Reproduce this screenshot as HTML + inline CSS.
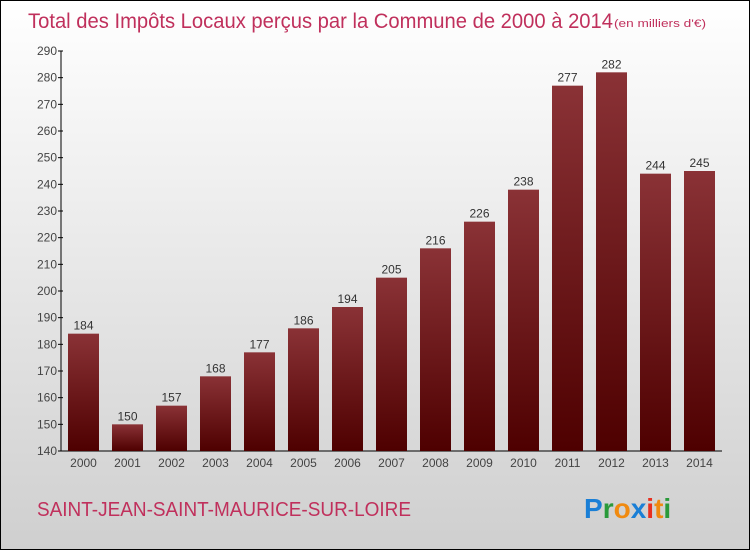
<!DOCTYPE html>
<html><head><meta charset="utf-8"><style>
body{margin:0}
#c{position:relative;width:750px;height:550px;box-sizing:border-box;border:1px solid #000;background:linear-gradient(#ffffff,#cfcfcf);font-family:"Liberation Sans",sans-serif;overflow:hidden}
</style></head><body>
<div id="c">
<svg id="s" width="750" height="550" style="position:absolute;left:0;top:0">
<defs><linearGradient id="g" x1="0" y1="0" x2="0" y2="1"><stop offset="0" stop-color="#8a3236"/><stop offset="1" stop-color="#4e0000"/></linearGradient></defs>
<text x="27" y="27" font-size="21" fill="#c0305c" textLength="585" lengthAdjust="spacingAndGlyphs">Total des Impôts Locaux perçus par la Commune de 2000 à 2014</text>
<text x="613" y="26" font-size="11" fill="#c0305c" textLength="92" lengthAdjust="spacingAndGlyphs">(en milliers d'€)</text>
<text x="36" y="515" font-size="20" fill="#c0305c" textLength="374" lengthAdjust="spacingAndGlyphs">SAINT-JEAN-SAINT-MAURICE-SUR-LOIRE</text>
<text x="583" y="517" font-size="28" font-weight="bold"><tspan fill="#1a7fd6">P</tspan><tspan fill="#2a9a3a">r</tspan><tspan fill="#f08a10">o</tspan><tspan fill="#1a7fd6">x</tspan><tspan fill="#e83020">i</tspan><tspan fill="#f08a10">t</tspan><tspan fill="#2a9a3a">i</tspan></text>
</svg>
</div>
<script>
const years=["2000","2001","2002","2003","2004","2005","2006","2007","2008","2009","2010","2011","2012","2013","2014"];
const values=[184,150,157,168,177,186,194,205,216,226,238,277,282,244,245];
const yTicks=[140,150,160,170,180,190,200,210,220,230,240,250,260,270,280,290];
const s=document.getElementById('s');
const NS='http://www.w3.org/2000/svg';
const y=v=>450-(v-140)*400/150;
const x=i=>82.5+i*44;
function mk(t,a){const e=document.createElementNS(NS,t);for(const k in a)e.setAttribute(k,a[k]);s.appendChild(e);return e;}
let ax=mk('line',{x1:60,y1:50,x2:60,y2:450,stroke:'#000'});


let xa=mk('line',{x1:60,y1:450,x2:721,y2:450,stroke:'#000'});


yTicks.forEach(v=>{
 let l=mk('line',{x1:57,y1:y(v),x2:62,y2:y(v),stroke:'#000'});
 
 
 let t=mk('text',{x:56,y:y(v)+4,'font-size':12,fill:'#444','text-anchor':'end'});
 t.textContent=v;
 
 
});
years.forEach((yr,i)=>{
 let b=mk('rect',{x:x(i)-15.5,y:y(values[i]),width:31,height:450-y(values[i]),fill:'url(#g)'});
 
 
 let v=mk('text',{x:x(i),y:y(values[i])-4,'font-size':12,fill:'#333','text-anchor':'middle'});
 v.textContent=values[i];
 
 
 let t=mk('text',{x:x(i),y:466,'font-size':12,fill:'#444','text-anchor':'middle'});
 t.textContent=yr;
 
 
});
</script>
</body></html>
